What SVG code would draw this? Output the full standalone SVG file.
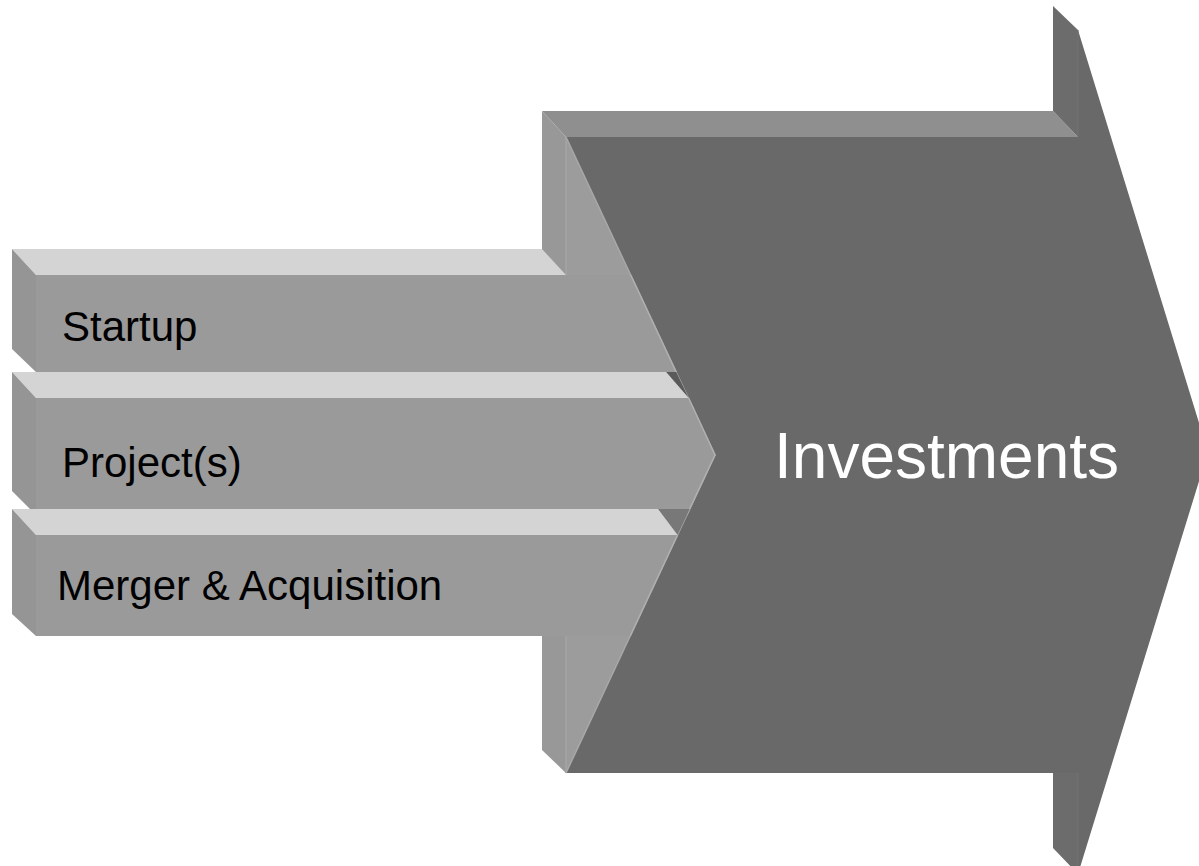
<svg xmlns="http://www.w3.org/2000/svg" width="1199" height="866" viewBox="0 0 1199 866">
<style>
.bevtop{fill:#d4d4d4}
.side{fill:#959595}
.front{fill:#9a9a9a}
.lbl{font-family:"Liberation Sans",Arial,sans-serif;font-size:42px;fill:#000}
</style>
<rect width="1199" height="866" fill="#fff"/>
<g id="investments">
  <polygon points="542,111 1053,111 1078,137 566,137" fill="#8f8f8f"/>
  <polygon points="542,111 566,137 566,773 542,750" fill="#989898"/>
  <polygon points="566,137 715,455 566,773" fill="#9c9c9c"/>
  <line x1="566" y1="137" x2="566" y2="773" stroke="#a4a4a4" stroke-width="1.5"/>
  <polygon points="1053,6 1078,30 1078,137 1053,111" fill="#6c6c6c"/>
  <polygon points="1053,773 1078,773 1078,874 1053,848" fill="#6c6c6c"/>
  <polygon points="566,137 1078,137 1078,30 1208,452 1078,874 1078,773 566,773 715,455" fill="#696969"/>
  <polyline points="566,137 715,455 566,773" fill="none" stroke="#a8a8a8" stroke-width="1.5"/>
  <line x1="1078" y1="30" x2="1078" y2="137" stroke="#727272" stroke-width="1"/>
  <line x1="1078" y1="773" x2="1078" y2="874" stroke="#727272" stroke-width="1"/>
  <text x="774" y="478" font-family="Liberation Sans, Arial, sans-serif" font-size="64" fill="#ffffff">Investments</text>
</g>
<g id="startup">
  <polygon class="bevtop" points="12,249 542,249 566,275 36,275"/>
  <polygon class="side" points="12,249 36,275 36,372 12,349"/>
  <polygon class="front" points="36,275 630.7,275 676.2,372 36,372"/>
  <line x1="630.7" y1="275" x2="676.2" y2="372" stroke="#b0b0b0" stroke-width="1.5"/>
  <text class="lbl" x="62" y="341">Startup</text>
</g>
<g id="projects">
  <polygon points="666,372 676.2,372 688.6,398" fill="#5a5a5a"/>
  <polygon class="bevtop" points="12,372 666,372 688.6,398 36,398"/>
  <polygon class="side" points="12,372 36,398 36,515 12,491"/>
  <polygon class="front" points="36,398 688.6,398 715,455 686.8,515 36,515"/>
  <polyline points="688.6,398 715,455 686.8,515" fill="none" stroke="#b0b0b0" stroke-width="1.5"/>
  <text class="lbl" x="62" y="477">Project(s)</text>
</g>
<g id="merger">
  <polygon points="658,509 689.7,509 677.5,535" fill="#787878"/>
  <polygon class="bevtop" points="12,509 658,509 677.5,535 36,535"/>
  <polygon class="side" points="12,509 36,535 36,636 12,614"/>
  <polygon class="front" points="36,535 677.5,535 630.2,636 36,636"/>
  <line x1="677.5" y1="535" x2="630.2" y2="636" stroke="#b0b0b0" stroke-width="1.5"/>
  <text class="lbl" x="57" y="600">Merger &amp; Acquisition</text>
</g>
<g id="connectors"></g>
</svg>
